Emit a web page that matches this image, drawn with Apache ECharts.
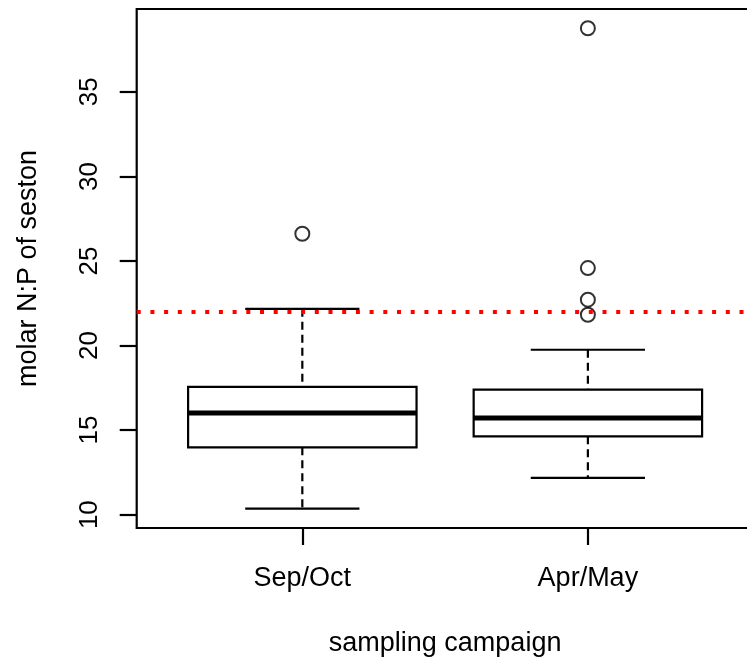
<!DOCTYPE html>
<html>
<head>
<meta charset="utf-8">
<script src="https://cdn.jsdelivr.net/npm/echarts@6/dist/echarts.min.js"></script>
<style>
html, body { margin: 0; padding: 0; background: #fff; }
#chart { width: 747px; height: 661px; }
</style>
</head>
<body>
<div id="chart"></div>
<script>
// boxplot stats, one entry per campaign
var campaigns = ['Sep/Oct', 'Apr/May'];
var whiskerLow = [10.35, 12.17];
var q1 = [13.98, 14.63];
var median = [16.01, 15.71];
var q3 = [17.55, 17.39];
var whiskerHigh = [22.17, 19.75];
var outliers = [[26.61], [38.76, 24.58, 22.71, 21.82]];
var refLine = 22;
var yTicks = [10, 15, 20, 25, 30, 35];

var font = 'Liberation Sans, Arial, sans-serif';

var boxData = [];
var outlierData = [];
for (var i = 0; i < campaigns.length; i++) {
	boxData.push([i + 1, whiskerLow[i], q1[i], median[i], q3[i], whiskerHigh[i]]);
	for (var j = 0; j < outliers[i].length; j++) {
		outlierData.push([i + 1, outliers[i][j]]);
	}
}

function renderBox(params, api) {
	var x = api.value(0);
	var lo = api.value(1), b1 = api.value(2), md = api.value(3), b3 = api.value(4), hi = api.value(5);
	var boxL = api.coord([x - 0.4, b3]);
	var boxR = api.coord([x + 0.4, b1]);
	var capL = api.coord([x - 0.2, hi])[0];
	var capR = api.coord([x + 0.2, hi])[0];
	var cx = api.coord([x, md])[0];
	var yLo = api.coord([x, lo])[1];
	var yHi = api.coord([x, hi])[1];
	var yMd = api.coord([x, md])[1];
	var solid = { stroke: '#000', lineWidth: 2.2, fill: null };
	var dashed = { stroke: '#000', lineWidth: 2.2, lineDash: [8, 5] };
	return {
		type: 'group',
		children: [
			{ type: 'line', shape: { x1: cx, y1: yHi, x2: cx, y2: boxL[1] }, style: dashed },
			{ type: 'line', shape: { x1: cx, y1: boxR[1], x2: cx, y2: yLo }, style: dashed },
			{ type: 'line', shape: { x1: capL, y1: yHi, x2: capR, y2: yHi }, style: solid },
			{ type: 'line', shape: { x1: capL, y1: yLo, x2: capR, y2: yLo }, style: solid },
			{ type: 'rect', shape: { x: boxL[0], y: boxL[1], width: boxR[0] - boxL[0], height: boxR[1] - boxL[1] },
				style: { stroke: '#000', lineWidth: 2.2, fill: '#fff' } },
			{ type: 'line', shape: { x1: boxL[0], y1: yMd, x2: boxR[0], y2: yMd }, style: { stroke: '#000', lineWidth: 5 } }
		]
	};
}

var myChart = echarts.init(document.getElementById('chart'));
var option = {
	animation: false,
	backgroundColor: '#fff',
	textStyle: { fontFamily: font, color: '#000' },
	grid: {
		left: 136.7,
		top: 9,
		width: 616.8,
		bottom: 133,
		outerBoundsMode: 'none',
		show: true,
		borderColor: '#000',
		borderWidth: 2.2,
		backgroundColor: 'transparent'
	},
	xAxis: {
		type: 'value',
		min: 0.42,
		max: 2.58,
		name: 'sampling campaign',
		nameLocation: 'middle',
		nameGap: 102,
		nameTextStyle: { fontSize: 27, color: '#000', fontFamily: font },
		axisLine: { show: false },
		splitLine: { show: false },
		axisTick: { show: true, customValues: [1, 2], length: 17, lineStyle: { color: '#000', width: 2.2 } },
		axisLabel: {
			customValues: [1, 2],
			margin: 37,
			fontSize: 27,
			color: '#000',
			fontFamily: font,
			formatter: function(v) { return campaigns[Math.round(v) - 1] || ''; }
		}
	},
	yAxis: {
		type: 'value',
		min: 9.21,
		max: 39.9,
		name: 'molar N:P of seston',
		nameLocation: 'middle',
		nameRotate: 90,
		nameGap: 95,
		nameTextStyle: { fontSize: 27, color: '#000', fontFamily: font },
		axisLine: { show: false },
		splitLine: { show: false },
		axisTick: { show: true, customValues: yTicks, length: 17, lineStyle: { color: '#000', width: 2.2 } },
		axisLabel: {
			customValues: yTicks,
			rotate: 90,
			margin: 34,
			fontSize: 26,
			color: '#000',
			fontFamily: font
		}
	},
	series: [{
		type: 'custom',
		renderItem: renderBox,
		encode: { x: 0, y: [1, 2, 3, 4, 5] },
		data: boxData,
		silent: true
	}, {
		type: 'scatter',
		data: outlierData,
		symbol: 'circle',
		symbolSize: 14,
		itemStyle: { color: 'rgba(0,0,0,0)', borderColor: '#000', borderWidth: 2 },
		silent: true,
		z: 3,
		markLine: {
			silent: true,
			symbol: 'none',
			label: { show: false },
			lineStyle: { color: '#ff0000', type: [4, 9.7], width: 4 },
			data: [{ yAxis: refLine }]
		}
	}]
};
myChart.setOption(option);
</script>
</body>
</html>
